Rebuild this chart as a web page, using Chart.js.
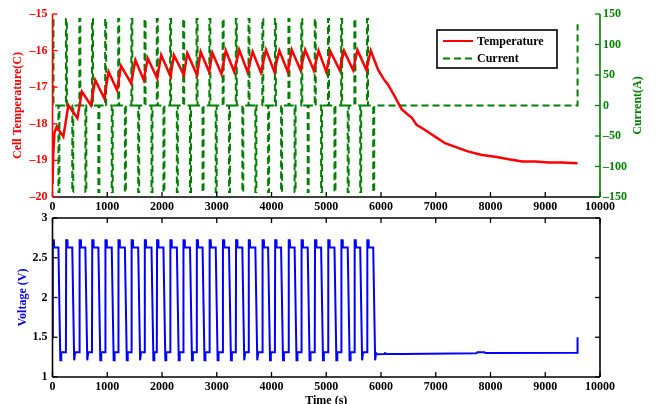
<!DOCTYPE html>
<html><head><meta charset="utf-8">
<script src="https://cdn.jsdelivr.net/npm/chart.js@4.4.1/dist/chart.umd.min.js"></script>
<style>
html,body{margin:0;padding:0;background:#fff;width:656px;height:404px;overflow:hidden}
#c1{position:absolute;left:0;top:0}
#c2{position:absolute;left:0;top:196px}
</style></head><body>
<canvas id="c1" width="656" height="216"></canvas>
<canvas id="c2" width="656" height="208"></canvas>
<script>
// ---------- data ----------
const timeTicks = [0,1000,2000,3000,4000,5000,6000,7000,8000,9000,10000];
const tempTicks = [-20,-19,-18,-17,-16,-15];
const currentTicks = [-150,-100,-50,0,50,100,150];
const voltTicks = [1,1.5,2,2.5,3];

// cell temperature (C)
const tempTime = [0,12,35,77,198,290,455,536,700,780,945,1024,1178,1251,1435,1514,1666,1740,1912,1985,
  2156,2217,2400,2462,2640,2706,2860,2920,3086,3165,3318,3410,3563,3655,3807,3899,4052,4143,4297,4370,
  4529,4615,4774,4859,5000,5079,5244,5324,5490,5569,5734,5813,5948,6050,6132,6253,6376,6499,6560,6651,
  6804,6987,7171,7354,7600,7844,8088,8334,8578,8822,9068,9312,9590];
const tempValue = [-19.65,-18.9,-18.25,-18.08,-18.35,-17.49,-17.85,-17.12,-17.49,-16.80,-17.30,-16.58,-17.08,-16.42,-16.89,-16.26,-16.80,-16.21,-16.76,-16.12,
  -16.71,-16.12,-16.67,-16.07,-16.67,-16.03,-16.58,-16.06,-16.64,-16.00,-16.58,-15.98,-16.58,-16.03,-16.60,-15.98,-16.58,-16.00,-16.58,-15.98,
  -16.53,-15.98,-16.55,-16.00,-16.58,-16.03,-16.53,-16.00,-16.53,-15.98,-16.53,-16.00,-16.53,-16.78,-16.94,-17.26,-17.60,-17.76,-17.83,-18.03,
  -18.17,-18.35,-18.53,-18.63,-18.76,-18.85,-18.90,-18.97,-19.03,-19.03,-19.06,-19.06,-19.08];

// pulse cycle timing (s)
const chargeStart = [0,245,490,721,962,1200,1440,1681,1905,2148,2387,2631,2865,3108,3348,3580,3832,4062,4310,4544,4790,5032,5272,5514,5745];
const dischargeStart = [108,361,600,838,1082,1322,1565,1808,2026,2271,2512,2741,2981,3224,3467,3705,3938,4175,4422,4661,4906,5150,5392,5620,5858];
const pulseCurrent = [142,-142];   // A: charge, discharge
const pulseDuration = 18;          // s
const endTime = 9590;
const endCurrent = 133;

// voltage levels (V)
const voltStart = 1.50, voltPeak = 2.72, voltHigh = 2.63, voltDip = 1.21, voltLow = 1.31;
const restTime = [5912,6070,6071,6080,6081,6390,6391,6400,6401,7740,7760,7890,7910,9590,9590];
const restVolt = [1.285,1.288,1.298,1.298,1.288,1.290,1.298,1.298,1.290,1.298,1.310,1.310,1.302,1.305,1.50];

// ---------- series built from the arrays ----------
const tempData = tempTime.map((t,i)=>({x:t,y:tempValue[i]}));
const currentData = [];
chargeStart.forEach((c,k)=>{
  const d = dischargeStart[k];
  currentData.push({x:c,y:0},{x:c,y:pulseCurrent[0]},{x:c+pulseDuration,y:pulseCurrent[0]},{x:c+pulseDuration,y:0});
  currentData.push({x:d,y:0},{x:d,y:pulseCurrent[1]},{x:d+pulseDuration,y:pulseCurrent[1]},{x:d+pulseDuration,y:0});
});
currentData.push({x:endTime,y:0},{x:endTime,y:endCurrent});

const voltData = [{x:0,y:voltStart}];
chargeStart.forEach((c,k)=>{
  const d = dischargeStart[k];
  if(k>0) voltData.push({x:c,y:voltLow});
  voltData.push({x:c+5,y:voltPeak},{x:c+25,y:voltPeak},{x:c+30,y:voltHigh},{x:d,y:voltHigh},
                {x:d+35,y:voltDip},{x:d+48,y:voltDip},{x:d+52,y:voltLow});
});
restTime.forEach((t,i)=>voltData.push({x:t,y:restVolt[i]}));

// ---------- styling ----------
const FAM = '"Liberation Serif","Times New Roman",serif';
const FONT = 'bold 12px ' + FAM;
const RED='#ff0000', GREEN='#008000', BLUE='#0000ff', BLACK='#000000';
const TL = 5;
const fmt = v => String(v).replace('-', '\u2013');

function line(ctx,x1,y1,x2,y2,col,w){ctx.strokeStyle=col;ctx.lineWidth=w||1.5;ctx.setLineDash([]);ctx.beginPath();ctx.moveTo(x1,y1);ctx.lineTo(x2,y2);ctx.stroke();}
function ticksV(ctx,scale,x,dir,col,a){scale.ticks.forEach(t=>{const y=scale.getPixelForValue(t.value);if(y<a.top-1||y>a.bottom+1)return;line(ctx,x,y,x+dir*TL,y,col,1.3);});}
function ticksH(ctx,scale,y,dir,col,a){scale.ticks.forEach(t=>{const x=scale.getPixelForValue(t.value);if(x<a.left-1||x>a.right+1)return;line(ctx,x,y,x,y+dir*TL,col,1.3);});}
function vtext(ctx,s,x,y,col){ctx.save();ctx.translate(x,y);ctx.rotate(-Math.PI/2);ctx.font=FONT;ctx.fillStyle=col;ctx.textAlign='center';ctx.textBaseline='middle';ctx.fillText(s,0,0);ctx.restore();}

const fixW = w => s => { s.width = w; };
const fixH = h => s => { s.height = h; };
const tickFont = {family:FAM,size:12,weight:'bold'};
const noGrid = {display:false,drawTicks:false};

const topDecor = {
  id:'topDecor',
  afterDraw(chart){
    const {ctx, chartArea:a, scales} = chart;
    ctx.save();
    line(ctx,a.left,a.bottom,a.right,a.bottom,BLACK,1.6);
    ticksH(ctx,scales.x,a.bottom,-1,BLACK,a);
    line(ctx,a.left,a.top,a.left,a.bottom,RED,1.6);
    ticksV(ctx,scales.y,a.left,1,RED,a);
    line(ctx,a.right,a.top,a.right,a.bottom,GREEN,1.6);
    ticksV(ctx,scales.y2,a.right,-1,GREEN,a);
    vtext(ctx,'Cell Temperature(C)',18,(a.top+a.bottom)/2,RED);
    vtext(ctx,'Current(A)',638,(a.top+a.bottom)/2,GREEN);
    // legend
    const ds = chart.data.datasets;
    ctx.fillStyle='#fff'; ctx.fillRect(437,30,120,38);
    ctx.strokeStyle=BLACK; ctx.lineWidth=1.6; ctx.setLineDash([]); ctx.strokeRect(437,30,120,38);
    const rows=[41,58.5];
    ds.forEach((d,i)=>{
      ctx.strokeStyle=d.borderColor; ctx.lineWidth=2; ctx.setLineDash(d.borderDash||[]);
      ctx.beginPath(); ctx.moveTo(443,rows[i]); ctx.lineTo(473,rows[i]); ctx.stroke();
      ctx.setLineDash([]);
      ctx.font=FONT; ctx.fillStyle=BLACK; ctx.textAlign='left'; ctx.textBaseline='middle';
      ctx.fillText(d.label,477,rows[i]+0.5);
    });
    ctx.restore();
  }
};

const botDecor = {
  id:'botDecor',
  afterDraw(chart){
    const {ctx, chartArea:a, scales} = chart;
    ctx.save();
    line(ctx,a.left,a.top,a.right,a.top,BLACK,1.6);
    line(ctx,a.left,a.bottom,a.right,a.bottom,BLACK,1.6);
    line(ctx,a.left,a.top,a.left,a.bottom,BLACK,1.6);
    line(ctx,a.right,a.top,a.right,a.bottom,BLACK,1.6);
    ticksH(ctx,scales.x,a.bottom,-1,BLACK,a);
    ticksH(ctx,scales.x,a.top,1,BLACK,a);
    ticksV(ctx,scales.y,a.left,1,BLACK,a);
    ticksV(ctx,scales.y,a.right,-1,BLACK,a);
    vtext(ctx,'Voltage (V)',23,(a.top+a.bottom)/2,BLUE);
    ctx.font=FONT; ctx.fillStyle=BLACK; ctx.textAlign='center'; ctx.textBaseline='middle';
    ctx.fillText('Time (s)',(a.left+a.right)/2,205);
    ctx.restore();
  }
};

const xScale = (h) => ({
  type:'linear', position:'bottom', min:0, max:10000,
  afterBuildTicks: s => { s.ticks = timeTicks.map(v=>({value:v})); },
  ticks:{font:tickFont,color:BLACK,padding:3,maxRotation:0,autoSkip:false,callback:v=>fmt(v)},
  grid:noGrid, border:{display:false}, afterFit:fixH(h)
});

new Chart(document.getElementById('c1'),{
  type:'line',
  data:{datasets:[
    {label:'Temperature',data:tempData,yAxisID:'y',borderColor:RED,borderWidth:2.5,pointRadius:0,tension:0,fill:false},
    {label:'Current',data:currentData,yAxisID:'y2',borderColor:GREEN,borderWidth:2,borderDash:[7,4],pointRadius:0,tension:0,fill:false}
  ]},
  options:{
    responsive:false, animation:false, events:[], devicePixelRatio:1,
    layout:{padding:{top:14,left:0,right:0,bottom:0}},
    plugins:{legend:{display:false},tooltip:{enabled:false}},
    scales:{
      x:xScale(19),
      y:{type:'linear',position:'left',min:-20,max:-15,
        afterBuildTicks: s => { s.ticks = tempTicks.map(v=>({value:v})); },
        ticks:{font:tickFont,color:RED,padding:5,callback:v=>fmt(v)},
        grid:noGrid,border:{display:false},afterFit:fixW(52.5)},
      y2:{type:'linear',position:'right',min:-150,max:150,
        afterBuildTicks: s => { s.ticks = currentTicks.map(v=>({value:v})); },
        ticks:{font:tickFont,color:GREEN,padding:3,callback:v=>fmt(v)},
        grid:noGrid,border:{display:false},afterFit:fixW(56)}
    }
  },
  plugins:[topDecor]
});

new Chart(document.getElementById('c2'),{
  type:'line',
  data:{datasets:[
    {label:'Voltage',data:voltData,borderColor:BLUE,borderWidth:2,pointRadius:0,tension:0,fill:false}
  ]},
  options:{
    responsive:false, animation:false, events:[], devicePixelRatio:1,
    layout:{padding:{top:22,left:0,right:56,bottom:0}},
    plugins:{legend:{display:false},tooltip:{enabled:false}},
    scales:{
      x:xScale(27),
      y:{type:'linear',position:'left',min:1,max:3,
        afterBuildTicks: s => { s.ticks = voltTicks.map(v=>({value:v})); },
        ticks:{font:tickFont,color:BLACK,padding:5,callback:v=>fmt(v)},
        grid:noGrid,border:{display:false},afterFit:fixW(52.5)}
    }
  },
  plugins:[botDecor]
});
</script>
</body></html>
